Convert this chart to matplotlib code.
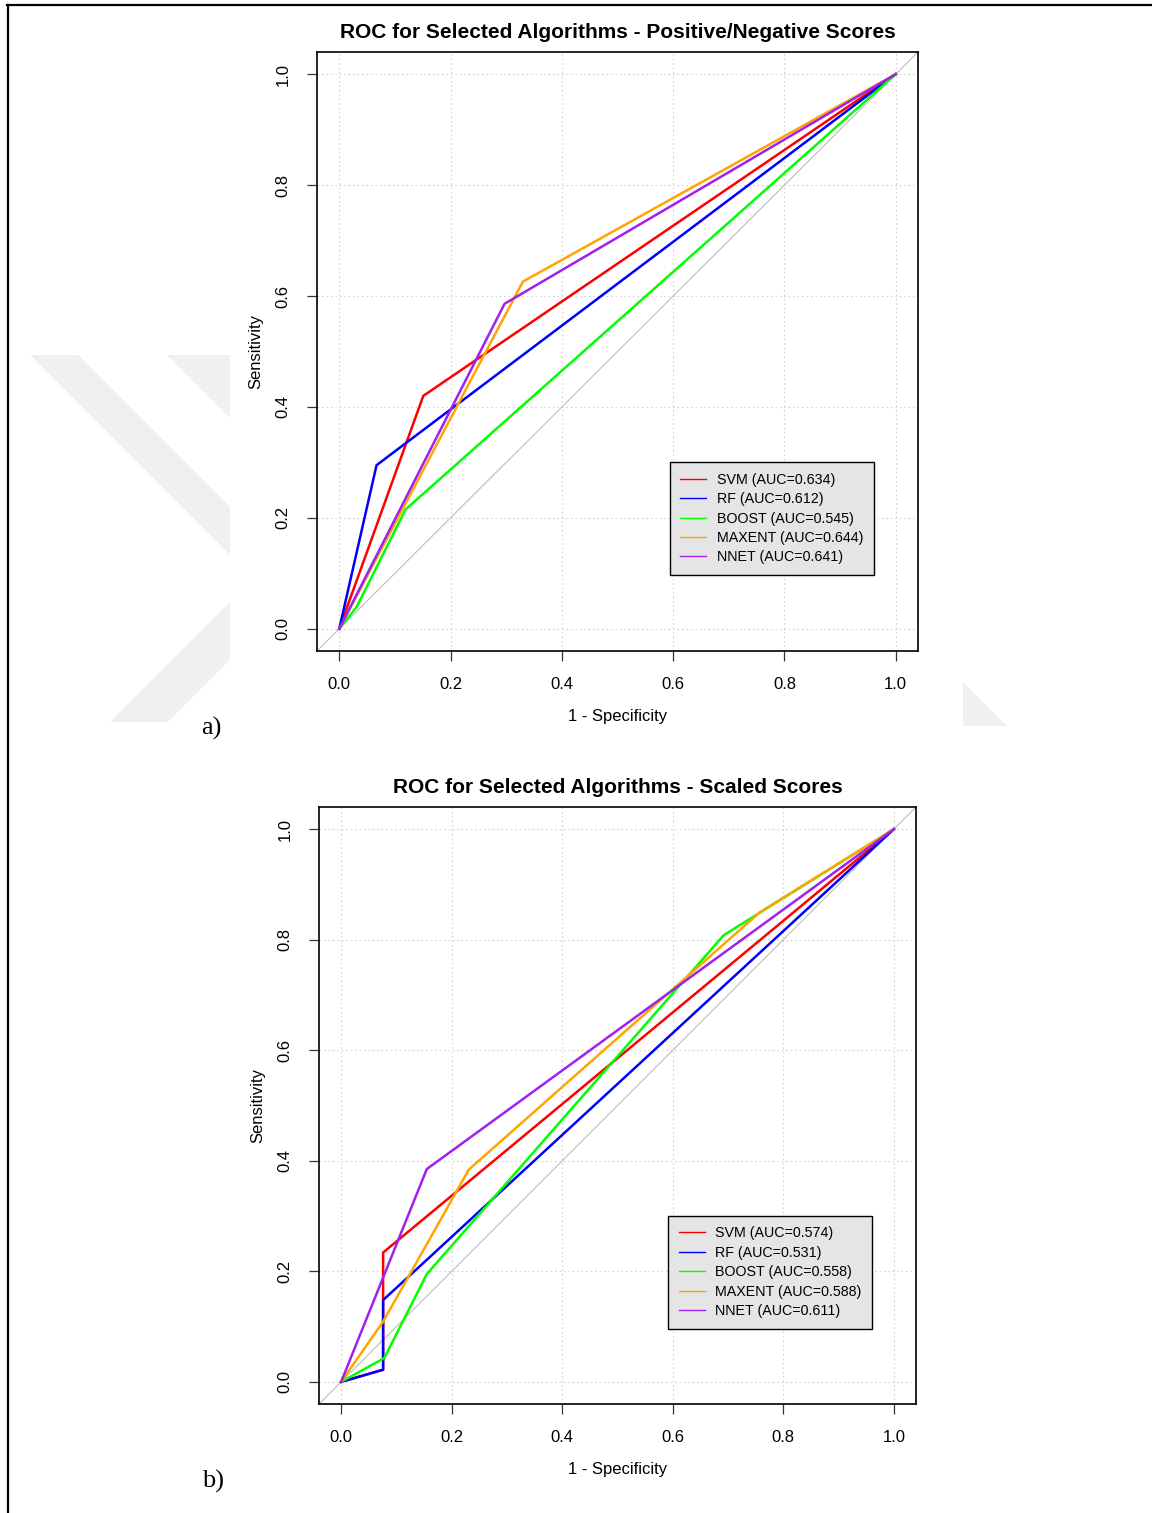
import matplotlib
matplotlib.use('Agg')
import matplotlib.pyplot as plt
from matplotlib.lines import Line2D
from matplotlib.patches import Polygon

plt.rcParams['font.family'] = ['Liberation Sans', 'DejaVu Sans']

# ---- data ----
names = ['SVM', 'RF', 'BOOST', 'MAXENT', 'NNET']
colors = ['#FF0000', '#0000FF', '#00FF00', '#FFA500', '#A020F0']

# a) positive / negative scores
auc_a = [0.634, 0.612, 0.545, 0.644, 0.641]
fpr_a = [[0, 0.151, 1],
         [0, 0.067, 1],
         [0, 0.031, 0.119, 1],
         [0, 0.330, 1],
         [0, 0.297, 1]]
tpr_a = [[0, 0.420, 1],
         [0, 0.295, 1],
         [0, 0.039, 0.215, 1],
         [0, 0.626, 1],
         [0, 0.586, 1]]

# b) scaled scores
auc_b = [0.574, 0.531, 0.558, 0.588, 0.611]
fpr_b = [[0, 0.076, 0.076, 1],
         [0, 0.076, 0.076, 1],
         [0, 0.078, 0.155, 0.692, 1],
         [0, 0.076, 0.231, 0.758, 1],
         [0, 0.155, 1]]
tpr_b = [[0, 0.022, 0.234, 1],
         [0, 0.022, 0.148, 1],
         [0, 0.043, 0.195, 0.808, 1],
         [0, 0.109, 0.384, 0.850, 1],
         [0, 0.385, 1]]

ticks = [0.0, 0.2, 0.4, 0.6, 0.8, 1.0]
tick_labels = ['0.0', '0.2', '0.4', '0.6', '0.8', '1.0']

W, H = 1152, 1513
fig = plt.figure(figsize=(W / 100, H / 100), dpi=100)

# page background: border lines and faint watermark
bg = fig.add_axes([0, 0, 1, 1])
bg.set_xlim(0, W)
bg.set_ylim(H, 0)
bg.axis('off')
wm = '#F0F0F0'
for pts in [[(30, 355), (78, 355), (230, 507), (230, 555)],
            [(167, 355), (230, 355), (230, 418)],
            [(110, 722), (168, 722), (230, 660), (230, 602)],
            [(963, 682), (963, 726), (1007, 726)]]:
    bg.add_patch(Polygon(pts, closed=True, facecolor=wm, edgecolor='none'))
bg.plot([7, W], [5, 5], color='black', lw=1.6)
bg.plot([7.5, 7.5], [5, H], color='black', lw=1.6)
bg.text(211, 728, 'a)', family='Liberation Serif', fontsize=19, ha='center', va='center')
bg.text(213, 1481, 'b)', family='Liberation Serif', fontsize=19, ha='center', va='center')


def roc_panel(rect, title, fprs, tprs, aucs):
    ax = fig.add_axes(rect)
    ax.set_xlim(-0.04, 1.04)
    ax.set_ylim(-0.04, 1.04)
    for t in ticks:
        ax.axhline(t, color='#D3D3D3', lw=0.8, ls=(0, (1.5, 2.5)), zorder=1)
        ax.axvline(t, color='#D3D3D3', lw=0.8, ls=(0, (1.5, 2.5)), zorder=1)
    ax.plot([-0.04, 1.04], [-0.04, 1.04], color='#BEBEBE', lw=0.8, zorder=2)
    for i in range(len(names)):
        ax.plot(fprs[i], tprs[i], color=colors[i], lw=1.8, zorder=3)
    ax.set_xticks(ticks)
    ax.set_xticklabels(tick_labels)
    ax.set_yticks(ticks)
    ax.set_yticklabels(tick_labels, rotation=90, va='center')
    ax.tick_params(length=7, width=0.9, labelsize=12, pad=12, color='#333333')
    for s in ax.spines.values():
        s.set_linewidth(1.2)
    ax.set_xlabel('1 - Specificity', fontsize=12, labelpad=12)
    ax.set_ylabel('Sensitivity', fontsize=12, labelpad=9)
    ax.set_title(title, fontsize=15, fontweight='bold', pad=10)
    handles = [Line2D([], [], color=colors[i], lw=1.0) for i in range(len(names))]
    labels = ['%s (AUC=%.3f)' % (names[i], aucs[i]) for i in range(len(names))]
    leg = ax.legend(handles, labels, loc='upper right', bbox_to_anchor=(0.927, 0.3155),
                    fontsize=10.3, frameon=True, fancybox=False, framealpha=1,
                    facecolor='#E5E5E5', edgecolor='black', handlelength=1.8,
                    handletextpad=0.75, labelspacing=0.38, borderpad=0.75,
                    borderaxespad=0)
    leg.get_frame().set_linewidth(1.0)
    return ax


roc_panel([317 / W, 1 - 651 / H, 601 / W, 599 / H],
          'ROC for Selected Algorithms - Positive/Negative Scores', fpr_a, tpr_a, auc_a)
roc_panel([319 / W, 1 - 1404 / H, 597 / W, 597 / H],
          'ROC for Selected Algorithms - Scaled Scores', fpr_b, tpr_b, auc_b)

fig.savefig('out.png', dpi=100)
